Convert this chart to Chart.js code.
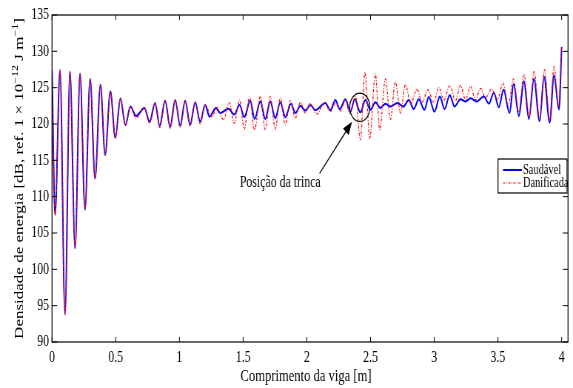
<!DOCTYPE html>
<html><head><meta charset="utf-8">
<script src="https://cdn.jsdelivr.net/npm/chart.js@4/dist/chart.umd.min.js"></script>
<style>html,body{margin:0;padding:0;background:#fff;overflow:hidden}canvas{display:block}</style>
</head><body>
<canvas id="c"></canvas>
<script>
// ---- data ----
const seriesNames = ['Saudável', 'Danificada'];
const xTicks = [0, 0.5, 1, 1.5, 2, 2.5, 3, 3.5, 4];
const yTicks = [90, 95, 100, 105, 110, 115, 120, 125, 130, 135];
const xTitle = 'Comprimento da viga [m]';
const annotationText = 'Posição da trinca';

const healthyX = [0,0.024,0.063,0.102,0.141,0.181,0.220,0.259,0.299,0.338,0.380,0.417,0.458,0.497,0.537,0.576,0.615,0.660,0.725,0.766,0.809,0.845,0.888,0.927,0.967,1.006,1.045,1.084,1.124,1.163,1.202,1.236,1.286,1.320,1.385,1.430,1.472,1.509,1.556,1.590,1.635,1.674,1.713,1.752,1.792,1.831,1.876,1.910,1.949,1.988,2.028,2.067,2.145,2.185,2.224,2.258,2.303,2.342,2.376,2.420,2.460,2.499,2.538,2.578,2.617,2.656,2.711,2.758,2.800,2.839,2.879,2.923,2.957,3.002,3.044,3.081,3.122,3.159,3.206,3.246,3.285,3.332,3.389,3.429,3.468,3.507,3.544,3.591,3.623,3.664,3.704,3.743,3.782,3.827,3.862,3.906,3.940,3.979,4.000];
const healthyY = [127.4,107.5,127.4,93.8,127.2,102.9,126.9,108.2,126.2,112.5,125.4,115.7,124.5,118.1,123.5,119.85,122.4,121.1,122.2,120.3,122.9,119.75,123.2,119.6,123.3,119.75,123.2,119.9,123.0,120.3,122.6,121.0,122.2,121.5,122.1,121.3,122.6,120.95,123.2,120.7,123.1,120.7,123.1,120.8,123.0,120.95,122.8,121.5,122.5,121.85,122.6,121.9,122.9,121.9,123.3,122.05,123.4,121.7,123.4,121.6,123.3,121.95,123.0,122.2,122.8,122.4,122.9,122.4,123.3,122.05,123.4,121.95,123.7,121.7,123.8,122.05,124.0,122.4,123.4,123.1,123.55,123.1,123.8,122.8,124.3,122.3,124.7,121.5,125.5,121.1,125.9,120.7,126.2,120.4,126.5,120.2,126.7,122.0,130.6];

const damagedX = [0,0.024,0.063,0.102,0.141,0.181,0.220,0.259,0.299,0.338,0.380,0.417,0.458,0.497,0.537,0.576,0.615,0.660,0.725,0.766,0.809,0.845,0.888,0.927,0.967,1.006,1.045,1.084,1.124,1.163,1.202,1.255,1.294,1.346,1.391,1.430,1.472,1.509,1.550,1.590,1.635,1.674,1.713,1.752,1.792,1.831,1.870,1.910,1.949,1.988,2.022,2.080,2.138,2.185,2.224,2.263,2.303,2.336,2.382,2.420,2.456,2.494,2.538,2.572,2.617,2.656,2.695,2.735,2.774,2.817,2.864,2.905,2.949,2.996,3.036,3.075,3.122,3.167,3.206,3.246,3.285,3.324,3.363,3.403,3.450,3.497,3.540,3.580,3.623,3.662,3.704,3.745,3.784,3.827,3.866,3.906,3.940,3.976,4.000];
const damagedY = [127.4,107.5,127.4,93.8,127.2,102.9,126.9,108.2,126.2,112.5,125.4,115.7,124.5,118.1,123.5,119.85,122.4,120.8,122.2,120.1,122.9,119.5,123.2,119.4,123.3,119.5,123.2,119.7,123.0,120.0,122.6,120.95,122.3,120.6,122.9,120.1,123.3,119.3,123.7,119.2,123.8,119.2,123.8,119.3,123.6,119.9,123.2,120.8,123.0,121.5,122.8,121.4,122.9,121.7,122.9,121.8,123.3,121.5,123.8,117.8,127.1,118.0,126.9,119.2,126.2,120.6,125.85,121.5,125.4,122.8,124.8,123.0,124.7,123.0,125.05,123.2,125.3,123.2,125.3,123.3,125.2,123.3,124.9,123.6,124.8,123.4,125.6,122.6,126.2,121.7,126.85,121.0,127.2,120.8,127.5,120.5,127.9,122.4,130.6];

// annotation anchor (data units)
const crackX = 2.416, crackY = 122.3, crackRx = 0.079, crackRy = 1.95;
const arrowTip = [2.355, 120.3], arrowTail = [2.10, 113.2];
const labelPos = [1.474, 111.85];

// ---- rendering setup (image is horizontally condensed like the reference) ----
const SX = 0.7403;
const W = 774, H = 388;
const cv = document.getElementById('c');
cv.width = W; cv.height = H;
cv.style.width = '573px'; cv.style.height = '388px';
const FONT = "'Liberation Serif', 'Times New Roman', serif";

const toPts = (xs, ys) => xs.map((x, i) => ({x, y: ys[i]}));

const framePlugin = {
  id: 'frame',
  afterDatasetsDraw(chart) {
    const {ctx, chartArea: a, scales: {x, y}} = chart;
    ctx.save();
    ctx.strokeStyle = '#000'; ctx.lineWidth = 1.2;
    ctx.strokeRect(a.left, a.top, a.right - a.left, a.bottom - a.top);
    ctx.lineWidth = 1;
    ctx.beginPath();
    xTicks.forEach(v => { const p = x.getPixelForValue(v);
      ctx.moveTo(p, a.bottom); ctx.lineTo(p, a.bottom - 5);
      ctx.moveTo(p, a.top); ctx.lineTo(p, a.top + 5); });
    yTicks.forEach(v => { const p = y.getPixelForValue(v);
      ctx.moveTo(a.left, p); ctx.lineTo(a.left + 7, p);
      ctx.moveTo(a.right, p); ctx.lineTo(a.right - 7, p); });
    ctx.stroke();
    ctx.restore();
  },
  afterDraw(chart) {
    const {ctx, chartArea: a, scales: {x, y}} = chart;
    ctx.save();
    ctx.fillStyle = '#000'; ctx.strokeStyle = '#000';
    // x title
    ctx.font = `17px ${FONT}`;
    ctx.textAlign = 'center'; ctx.textBaseline = 'middle';
    ctx.fillText(xTitle, 306 / SX, 377);
    // y title with superscripts
    const segs = [
      ['Densidade de energia [dB, ref. 1 \u00d7 10', false],
      ['\u221212', true], [' J m', false], ['\u22121', true], [']', false]];
    const meas = s => { ctx.font = `${s[1] ? 12 : 17}px ${FONT}`; return ctx.measureText(s[0]).width; };
    const total = segs.reduce((t, s) => t + meas(s), 0);
    ctx.translate(25, (a.top + a.bottom) / 2);
    ctx.rotate(-Math.PI / 2);
    ctx.textAlign = 'left'; ctx.textBaseline = 'alphabetic';
    let px = -total / 2;
    segs.forEach(s => { const w = meas(s); ctx.fillText(s[0], px, s[1] ? -1.5 : 6); px += w; });
    ctx.restore();

    // annotation: circle, arrow, text
    ctx.save();
    ctx.strokeStyle = '#000'; ctx.fillStyle = '#000'; ctx.lineWidth = 1.2;
    const cx = x.getPixelForValue(crackX), cy = y.getPixelForValue(crackY);
    const rx = x.getPixelForValue(crackX + crackRx) - cx, ry = cy - y.getPixelForValue(crackY + crackRy);
    ctx.beginPath(); ctx.ellipse(cx, cy, rx, ry, 0, 0, Math.PI * 2); ctx.stroke();
    const tx = x.getPixelForValue(arrowTip[0]), ty = y.getPixelForValue(arrowTip[1]);
    const sx = x.getPixelForValue(arrowTail[0]), sy = y.getPixelForValue(arrowTail[1]);
    const dx = tx - sx, dy = ty - sy, L = Math.hypot(dx, dy), ux = dx / L, uy = dy / L;
    const hl = 13, hw = 5;
    ctx.beginPath(); ctx.moveTo(sx, sy); ctx.lineTo(tx - ux * hl * 0.8, ty - uy * hl * 0.8); ctx.stroke();
    ctx.beginPath(); ctx.moveTo(tx, ty);
    ctx.lineTo(tx - ux * hl - uy * hw, ty - uy * hl + ux * hw);
    ctx.lineTo(tx - ux * hl + uy * hw, ty - uy * hl - ux * hw);
    ctx.closePath(); ctx.fill();
    ctx.font = `16px ${FONT}`; ctx.textAlign = 'left'; ctx.textBaseline = 'middle';
    ctx.fillText(annotationText, x.getPixelForValue(labelPos[0]), y.getPixelForValue(labelPos[1]));
    ctx.restore();

    // legend
    ctx.save();
    const bl = 498 / SX, br = 567 / SX, bt = 159, bb = 193;
    ctx.fillStyle = '#fff'; ctx.fillRect(bl, bt, br - bl, bb - bt);
    ctx.strokeStyle = '#000'; ctx.lineWidth = 1.2; ctx.strokeRect(bl, bt, br - bl, bb - bt);
    const rows = [170, 183];
    chart.data.datasets.forEach((ds, i) => {
      ctx.strokeStyle = ds.borderColor; ctx.lineWidth = ds.borderWidth;
      ctx.setLineDash(ds.borderDash || []);
      ctx.beginPath(); ctx.moveTo(503 / SX, rows[i]); ctx.lineTo(522 / SX, rows[i]); ctx.stroke();
      ctx.setLineDash([]);
      ctx.fillStyle = '#000'; ctx.font = `14px ${FONT}`; ctx.textBaseline = 'middle'; ctx.textAlign = 'left';
      ctx.fillText(ds.label, 523 / SX, rows[i]);
    });
    ctx.restore();
  }
};

new Chart(cv, {
  type: 'line',
  data: {
    datasets: [
      { label: seriesNames[0], data: toPts(healthyX, healthyY), borderColor: '#0000ff', borderWidth: 2,
        pointRadius: 0, cubicInterpolationMode: 'monotone', order: 2, fill: false },
      { label: seriesNames[1], data: toPts(damagedX, damagedY), borderColor: '#ff0000', borderWidth: 1.2,
        borderDash: [3, 1.5, 1, 1.5], pointRadius: 0, cubicInterpolationMode: 'monotone', order: 1, fill: false }
    ]
  },
  options: {
    responsive: false, animation: false, devicePixelRatio: 1,
    layout: { padding: { left: 0, top: 15, right: W - 568 / SX, bottom: 0 } },
    plugins: { legend: { display: false }, tooltip: { enabled: false } },
    scales: {
      x: { type: 'linear', min: 0, max: 4.05,
        afterBuildTicks: s => { s.ticks = xTicks.map(v => ({value: v})); },
        afterFit: s => { s.height = 388 - 342; },
        grid: { display: false, drawTicks: false }, border: { display: false },
        ticks: { font: { family: FONT, size: 16 }, color: '#000', padding: 6, maxRotation: 0,
          callback: v => String(v) } },
      y: { type: 'linear', min: 90, max: 135,
        afterBuildTicks: s => { s.ticks = yTicks.map(v => ({value: v})); },
        afterFit: s => { s.width = 52 / SX; },
        grid: { display: false, drawTicks: false }, border: { display: false },
        ticks: { font: { family: FONT, size: 16 }, color: '#000', padding: 4, callback: v => String(v) } }
    }
  },
  plugins: [framePlugin]
});
</script>
</body></html>
